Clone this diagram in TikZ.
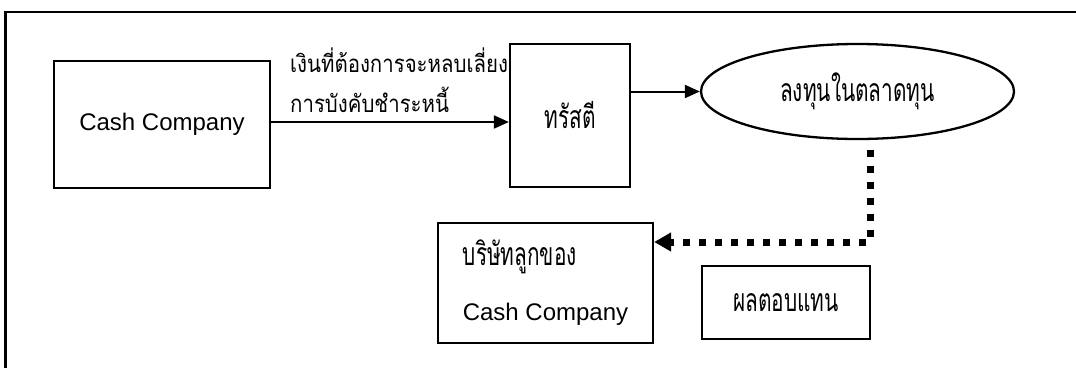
\documentclass[tikz,border=0pt]{standalone}
\usepackage{fontspec}
\setmainfont{Liberation Sans}
\newfontfamily\thai[Script=Thai, FakeStretch=0.65]{Loma}
\newfontfamily\thailbl[Script=Thai, FakeStretch=0.85]{Loma}
\usetikzlibrary{arrows.meta,shapes.geometric}
\tikzset{
  box/.style={draw, line width=2.3pt, rectangle, inner sep=0pt},
  conn/.style={line width=2pt, -{Triangle[length=15pt 0, width=13pt 0]}},
  dotconn/.style={line width=7pt, dash pattern=on 7pt off 9pt, -{Triangle[length=17pt 0, width=18pt 0]}},
  latin/.style={font=\fontsize{24}{28}\selectfont},
  thaitxt/.style={font=\thai\fontsize{32}{36}\selectfont},
}
\begin{document}
\begin{tikzpicture}[x=1pt,y=-1pt]
\useasboundingbox (0,0) rectangle (1076,367);
% frame
\draw[line width=2.3pt] (5.5,368) -- (5.5,12) -- (1077,12);
% boxes
\node[box, latin, minimum width=216pt, minimum height=127pt] (cash) at (162,124.5) {Cash Company};
\node[box, thaitxt, minimum width=120pt, minimum height=143pt] (trust) at (570,115.5) {ทรัสตี};
\node[draw, line width=2.3pt, ellipse, inner sep=0pt, minimum width=313pt, minimum height=95pt, thaitxt] (invest) at (857.5,91.5) {ลงทุนในตลาดทุน};
\node[box, minimum width=215pt, minimum height=120pt, align=left, font=\fontsize{24}{55}\selectfont] (child) at (545.5,283) {{\thai\fontsize{32}{55}\selectfont บริษัทลูกของ}\\Cash Company};
\node[box, thaitxt, minimum width=168pt, minimum height=73pt] (ret) at (786,302.5) {ผลตอบแทน};
% label
\node[anchor=west, align=left, inner sep=0pt, font=\thailbl\fontsize{24}{40}\selectfont] (lbl) at (290,80) {เงินที่ต้องการจะหลบเลี่ยง\\การบังคับชำระหนี้};
% connectors
\draw[conn] (cash.east |- 0,122) -- (trust.west |- 0,122);
\draw[conn] (trust.east |- invest.west) -- (invest.west);
\coordinate (dtop) at (870,150);
\coordinate (corner) at (870,242);
\draw[dotconn] (dtop) -- (corner) -- (child.east |- corner);
\end{tikzpicture}
\end{document}
